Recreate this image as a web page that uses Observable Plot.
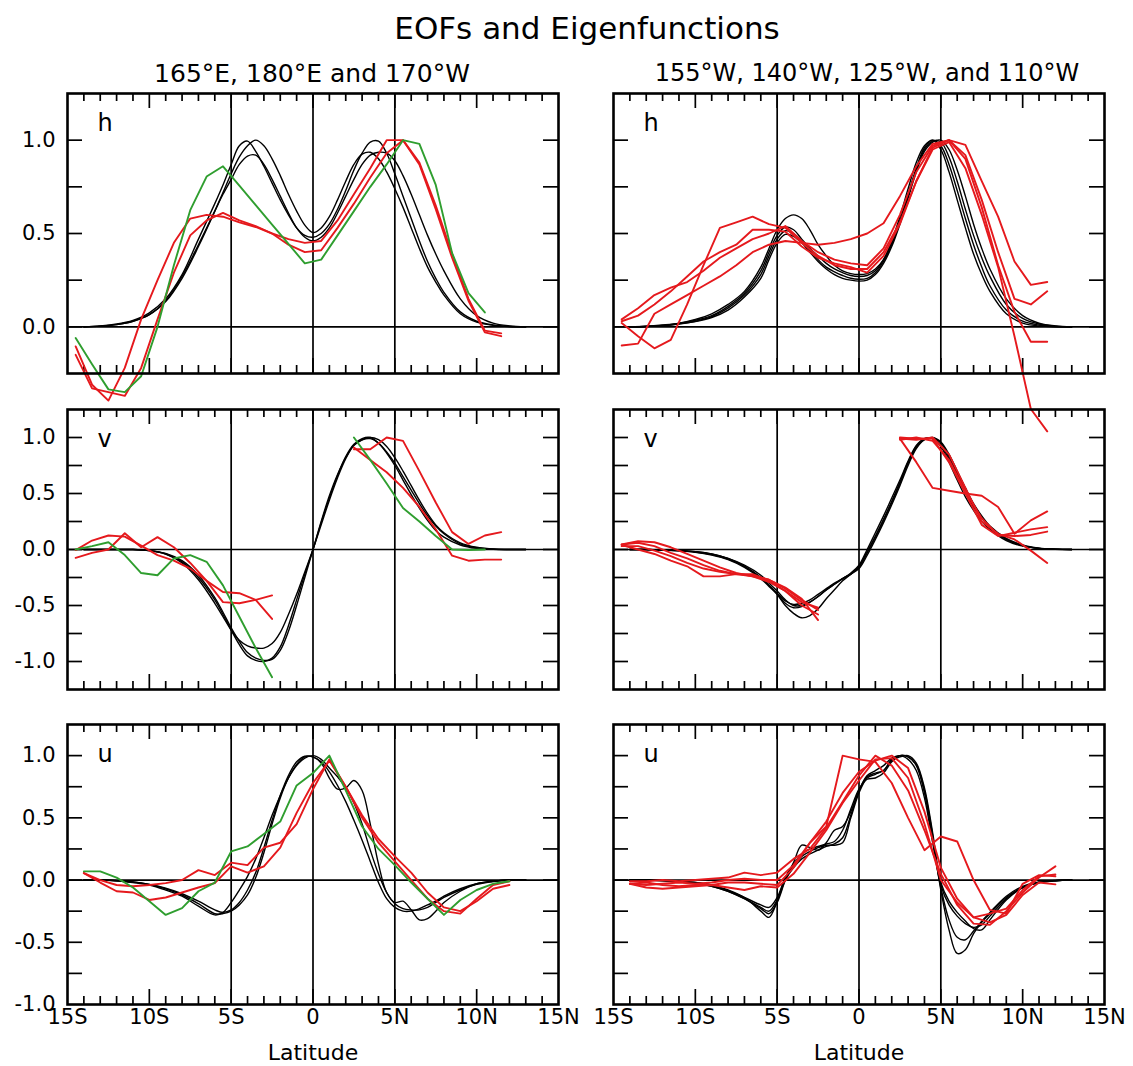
<!DOCTYPE html>
<html>
<head>
<meta charset="utf-8">
<script src="https://cdn.jsdelivr.net/npm/d3@7"></script>
<script src="https://cdn.jsdelivr.net/npm/@observablehq/plot@0.6"></script>
<style>
  body { margin: 0; background: #fff; }
  #page { position: relative; width: 1133px; height: 1066px; font-family: "DejaVu Sans", sans-serif; color: #000; overflow: hidden; }
  #page > svg { position: absolute; }
  .lbl { position: absolute; transform: translate(-50%, -50%); white-space: nowrap; }
</style>
</head>
<body>
<div id="page"></div>
<script>
// ---- latitude grids -------------------------------------------------------
// smooth eigenfunctions
const latEig = [-14,-13,-12,-11,-10,-9,-8,-7,-6,-5.5,-5,-4.5,-4,-3.5,-3,-2.5,-2,-1.5,-1,-0.5,0,
                0.5,1,1.5,2,2.5,3,3.5,4,4.5,5,5.5,6,6.5,7,7.5,8,9,10,11,12,13];
// EOFs of h and v (half-degree centres)
const latHalf = [-14.5,-13.5,-12.5,-11.5,-10.5,-9.5,-8.5,-7.5,-6.5,-5.5,-4.5,-3.5,-2.5,-1.5,-0.5,
                 0.5,1.5,2.5,3.5,4.5,5.5,6.5,7.5,8.5,9.5,10.5,11.5];
// EOFs of u (whole degrees)
const latWhole = [-14,-13,-12,-11,-10,-9,-8,-7,-6,-5,-4,-3,-2,-1,0,1,2,3,4,5,6,7,8,9,10,11,12];

// ---- h : 165E, 180E, 170W ---------------------------------------------------
const hEigWest = [
  [0,0.005,0.015,0.035,0.075,0.15,0.28,0.47,0.66,0.76,0.87,0.97,0.995,0.94,0.86,0.77,0.68,0.60,0.53,0.49,0.48,
   0.50,0.55,0.63,0.73,0.84,0.93,0.99,0.995,0.93,0.82,0.70,0.58,0.46,0.35,0.26,0.185,0.08,0.03,0.01,0.002,0],
  [0,0.004,0.012,0.03,0.065,0.135,0.26,0.43,0.62,0.72,0.82,0.91,0.97,1.0,0.97,0.90,0.81,0.71,0.62,0.545,0.505,
   0.53,0.59,0.68,0.78,0.87,0.925,0.935,0.90,0.83,0.74,0.64,0.53,0.42,0.32,0.24,0.17,0.07,0.025,0.008,0.002,0],
  [0,0.004,0.012,0.03,0.065,0.14,0.27,0.44,0.62,0.71,0.79,0.87,0.915,0.92,0.87,0.79,0.70,0.61,0.53,0.48,0.46,
   0.48,0.53,0.61,0.70,0.79,0.87,0.92,0.935,0.93,0.89,0.81,0.71,0.60,0.49,0.39,0.30,0.15,0.06,0.02,0.005,0]
];
const hEofWestRed = [
  [-0.105,-0.31,-0.395,-0.22,0.04,0.25,0.45,0.58,0.60,0.59,0.56,0.535,0.50,0.47,0.45,
   0.46,0.57,0.71,0.85,1.0,1.0,0.88,0.65,0.39,0.15,-0.02,-0.035],
  [-0.15,-0.33,-0.35,-0.37,-0.22,0.04,0.29,0.49,0.57,0.61,0.57,0.54,0.50,0.44,0.40,
   0.41,0.53,0.66,0.80,0.93,1.0,0.87,0.63,0.37,0.14,-0.03,-0.05]
];
const hEofWestGreen = [-0.06,-0.20,-0.335,-0.35,-0.265,0.0,0.33,0.625,0.805,0.86,0.756,0.652,0.548,0.444,0.34,
   0.36,0.49,0.62,0.75,0.87,1.0,0.98,0.76,0.395,0.18,0.077,null];

// ---- h : 155W, 140W, 125W, 110W --------------------------------------------
const hEigEast = [
  [0,0.003,0.01,0.02,0.04,0.07,0.12,0.19,0.32,0.42,0.52,0.58,0.60,0.58,0.52,0.44,0.38,0.33,0.30,0.285,0.28,
   0.285,0.31,0.36,0.45,0.57,0.71,0.85,0.96,1.0,0.97,0.87,0.73,0.58,0.44,0.32,0.22,0.09,0.03,0.01,0.002,0],
  [0,0.002,0.008,0.018,0.035,0.06,0.11,0.18,0.30,0.40,0.49,0.535,0.52,0.47,0.42,0.38,0.34,0.31,0.29,0.275,0.27,
   0.275,0.30,0.36,0.46,0.59,0.74,0.88,0.97,1.0,0.95,0.83,0.68,0.53,0.39,0.28,0.19,0.07,0.02,0.005,0,0],
  [0,0.002,0.007,0.016,0.03,0.055,0.10,0.17,0.28,0.38,0.47,0.515,0.50,0.46,0.41,0.36,0.32,0.295,0.275,0.26,0.255,
   0.26,0.29,0.35,0.44,0.56,0.70,0.84,0.95,0.995,0.99,0.91,0.78,0.63,0.49,0.37,0.27,0.12,0.045,0.015,0.004,0],
  [0,0.002,0.006,0.015,0.028,0.05,0.09,0.16,0.26,0.36,0.45,0.495,0.485,0.45,0.40,0.35,0.31,0.28,0.26,0.25,0.245,
   0.25,0.28,0.34,0.43,0.55,0.69,0.83,0.94,0.99,1.0,0.95,0.84,0.70,0.55,0.42,0.31,0.15,0.06,0.02,0.005,0]
];
const hEofEastRed = [
  [0.02,-0.05,-0.115,-0.07,0.12,0.33,0.53,0.56,0.59,0.55,0.53,0.45,0.38,0.33,0.31,
   0.31,0.40,0.56,0.78,0.96,1.0,0.92,0.68,0.40,0.15,0.12,0.19],
  [0.04,0.10,0.17,0.21,0.24,0.30,0.37,0.42,0.47,0.50,0.54,0.46,0.40,0.36,0.34,
   0.33,0.42,0.60,0.83,0.97,1.0,0.975,0.78,0.59,0.35,0.225,0.24],
  [-0.10,-0.09,0.07,0.12,0.17,0.22,0.27,0.33,0.40,0.44,0.46,0.45,0.44,0.45,0.47,
   0.50,0.555,0.70,0.86,0.98,1.0,0.90,0.64,0.33,0.08,-0.08,-0.08],
  [0.03,0.06,0.12,0.19,0.27,0.35,0.40,0.44,0.52,0.52,0.51,0.43,0.37,0.34,0.32,
   0.29,0.38,0.55,0.78,0.95,0.99,0.85,0.60,0.32,-0.05,-0.44,-0.56]
];

// ---- v : 165E, 180E, 170W ---------------------------------------------------
const vEigWest = [
  [0,0,0,0,-0.01,-0.04,-0.11,-0.25,-0.45,-0.58,-0.72,-0.85,-0.95,-0.99,-1.0,-0.97,-0.87,-0.68,-0.45,-0.22,0,
   0.24,0.46,0.66,0.83,0.94,0.99,1.0,0.95,0.86,0.75,0.62,0.49,0.37,0.26,0.17,0.11,0.04,0.01,0.002,0,0],
  [0,0,0,0,-0.01,-0.04,-0.12,-0.27,-0.48,-0.60,-0.72,-0.81,-0.86,-0.88,-0.88,-0.84,-0.74,-0.58,-0.40,-0.20,0,
   0.22,0.44,0.64,0.81,0.93,0.98,0.99,0.95,0.87,0.77,0.65,0.53,0.41,0.30,0.21,0.14,0.05,0.015,0.003,0,0],
  [0,0,0,0,-0.01,-0.035,-0.10,-0.23,-0.43,-0.56,-0.70,-0.82,-0.92,-0.97,-0.99,-0.98,-0.90,-0.73,-0.50,-0.25,0,
   0.25,0.48,0.67,0.82,0.93,0.98,1.0,0.98,0.92,0.82,0.70,0.57,0.44,0.32,0.22,0.15,0.06,0.02,0.005,0,0]
];
const vEofWestRed = [
  [-0.075,-0.03,0.0,0.145,0.02,0.11,0.02,-0.12,-0.28,-0.47,-0.48,-0.45,-0.41,null,null,
   null,null,0.895,0.895,1.0,0.97,0.70,0.42,0.155,0.05,0.125,0.155],
  [-0.005,0.08,0.125,0.115,0.035,-0.05,-0.10,-0.17,-0.28,-0.38,-0.39,-0.45,-0.62,null,null,
   null,null,0.91,0.80,0.69,0.55,0.38,0.18,-0.055,-0.10,-0.09,-0.09]
];
const vEofWestGreen = [0.0,0.03,0.065,-0.05,-0.21,-0.23,-0.08,-0.05,-0.11,-0.32,-0.60,-0.88,-1.14,null,null,
   null,null,1.0,0.80,0.59,0.37,0.25,0.12,0.0,-0.005,0.0,null];

// ---- v : 155W, 140W, 125W, 110W --------------------------------------------
const vEigEast = [
  [0,0,-0.005,-0.01,-0.02,-0.04,-0.08,-0.15,-0.25,-0.32,-0.40,-0.50,-0.57,-0.61,-0.59,-0.53,-0.44,-0.36,-0.28,-0.22,-0.15,
   -0.02,0.12,0.27,0.43,0.60,0.78,0.92,0.99,0.99,0.92,0.78,0.62,0.47,0.35,0.25,0.18,0.08,0.03,0.01,0.002,0],
  [0,0,-0.005,-0.012,-0.025,-0.05,-0.09,-0.16,-0.26,-0.33,-0.40,-0.48,-0.52,-0.51,-0.47,-0.42,-0.36,-0.31,-0.26,-0.21,-0.14,
   0.0,0.15,0.30,0.46,0.62,0.79,0.93,0.99,0.99,0.93,0.81,0.66,0.51,0.38,0.28,0.20,0.09,0.035,0.01,0.003,0],
  [0,0,-0.003,-0.01,-0.02,-0.04,-0.08,-0.14,-0.23,-0.30,-0.37,-0.45,-0.50,-0.50,-0.47,-0.42,-0.36,-0.31,-0.26,-0.22,-0.17,
   -0.05,0.09,0.24,0.40,0.57,0.75,0.90,0.98,1.0,0.96,0.85,0.70,0.55,0.41,0.30,0.21,0.10,0.04,0.012,0.003,0],
  [0,0,-0.004,-0.01,-0.022,-0.045,-0.085,-0.15,-0.25,-0.32,-0.39,-0.46,-0.49,-0.48,-0.45,-0.40,-0.35,-0.30,-0.26,-0.22,-0.16,
   -0.03,0.11,0.26,0.42,0.59,0.77,0.91,0.98,0.995,0.95,0.83,0.68,0.53,0.40,0.29,0.20,0.09,0.035,0.01,0.003,0]
];
const vEofEastRed = [
  [0.045,0.074,0.065,0.02,-0.04,-0.10,-0.16,-0.21,-0.24,-0.27,-0.35,-0.45,-0.54,null,null,
   null,null,0.99,0.78,0.55,0.525,0.50,0.48,0.38,0.14,0.26,0.34],
  [0.04,0.0,-0.04,-0.10,-0.15,-0.24,-0.24,-0.22,-0.23,-0.27,-0.34,-0.44,-0.63,null,null,
   null,null,1.0,0.99,0.99,0.78,0.50,0.22,0.12,0.15,0.18,0.20],
  [0.03,0.03,-0.01,-0.06,-0.12,-0.17,-0.20,-0.22,-0.24,-0.29,-0.37,-0.47,-0.52,null,null,
   null,null,0.99,0.98,1.0,0.85,0.55,0.25,0.14,0.09,-0.01,-0.12],
  [0.045,0.06,0.03,-0.03,-0.08,-0.14,-0.19,-0.22,-0.22,-0.28,-0.37,-0.50,-0.58,null,null,
   null,null,0.98,1.0,0.97,0.80,0.52,0.28,0.13,0.12,0.13,0.16]
];

// ---- u : 165E, 180E, 170W ---------------------------------------------------
const uEigWest = [
  [0,0,-0.005,-0.02,-0.04,-0.08,-0.13,-0.21,-0.28,-0.26,-0.18,-0.08,0.03,0.17,0.34,0.52,0.68,0.82,0.92,0.98,1.0,
   0.97,0.90,0.83,0.74,0.62,0.45,0.24,0.05,-0.10,-0.19,-0.23,-0.24,-0.24,-0.22,-0.18,-0.14,-0.08,-0.035,-0.012,0,0],
  [0,0,-0.005,-0.015,-0.035,-0.07,-0.12,-0.19,-0.27,-0.27,-0.25,-0.20,-0.12,0.02,0.22,0.45,0.66,0.82,0.93,0.99,0.99,
   0.94,0.82,0.73,0.74,0.80,0.72,0.45,0.13,-0.10,-0.18,-0.17,-0.24,-0.32,-0.31,-0.25,-0.18,-0.09,-0.03,-0.01,0,0],
  [0,0,-0.005,-0.015,-0.035,-0.065,-0.11,-0.17,-0.24,-0.26,-0.24,-0.18,-0.08,0.06,0.26,0.48,0.68,0.84,0.95,0.995,0.99,
   0.95,0.87,0.76,0.63,0.48,0.32,0.15,-0.02,-0.15,-0.22,-0.25,-0.25,-0.23,-0.20,-0.17,-0.13,-0.07,-0.03,-0.01,0,0]
];
const uEofWestRed = [
  [0.056,0.0,-0.04,-0.05,-0.04,-0.025,0.0,0.08,0.04,0.14,0.12,0.26,0.30,0.45,0.73,
   0.97,0.75,0.52,0.33,0.19,0.06,-0.10,-0.22,-0.25,-0.17,-0.07,-0.04],
  [0.056,-0.02,-0.09,-0.10,-0.16,-0.14,-0.10,-0.06,-0.025,0.11,0.06,0.11,0.26,0.54,0.78,
   0.96,0.75,0.50,0.30,0.15,0.0,-0.15,-0.25,-0.27,-0.15,-0.04,-0.01]
];
const uEofWestGreen = [0.07,0.07,0.02,-0.06,-0.17,-0.28,-0.225,-0.09,-0.02,0.23,0.27,0.37,0.47,0.76,0.86,
   1.0,0.72,0.43,0.25,0.12,-0.02,-0.15,-0.28,-0.16,-0.08,-0.03,-0.01];

// ---- u : 155W, 140W, 125W, 110W --------------------------------------------
const uEigEast = [
  [0,0,-0.003,-0.01,-0.02,-0.04,-0.08,-0.14,-0.25,-0.30,-0.17,0.02,0.13,0.21,0.25,0.27,0.29,0.31,0.40,0.57,0.73,
   0.81,0.82,0.86,0.95,1.0,0.99,0.92,0.70,0.33,-0.08,-0.40,-0.59,-0.56,-0.43,-0.34,-0.27,-0.14,-0.06,-0.02,-0.005,0],
  [0,0,-0.004,-0.012,-0.025,-0.05,-0.09,-0.15,-0.23,-0.27,-0.18,0.0,0.14,0.28,0.26,0.24,0.30,0.40,0.43,0.55,0.72,
   0.83,0.86,0.88,0.97,1.0,0.97,0.88,0.66,0.30,-0.06,-0.32,-0.46,-0.48,-0.41,-0.33,-0.26,-0.13,-0.05,-0.015,-0.004,0],
  [0,0,-0.004,-0.012,-0.025,-0.05,-0.09,-0.15,-0.22,-0.25,-0.16,0.0,0.10,0.17,0.21,0.24,0.27,0.29,0.34,0.52,0.72,
   0.84,0.88,0.92,0.98,1.0,0.99,0.93,0.72,0.36,-0.04,-0.20,-0.29,-0.35,-0.38,-0.36,-0.29,-0.15,-0.06,-0.02,-0.005,0],
  [0,0,-0.004,-0.01,-0.02,-0.045,-0.085,-0.14,-0.20,-0.22,-0.14,0.02,0.12,0.19,0.23,0.26,0.28,0.28,0.30,0.50,0.70,
   0.82,0.85,0.88,0.96,0.99,1.0,0.94,0.74,0.38,-0.02,-0.17,-0.26,-0.33,-0.39,-0.40,-0.32,-0.16,-0.06,-0.02,-0.005,0]
];
const uEofEastRed = [
  [-0.03,-0.02,-0.04,-0.05,-0.04,-0.04,-0.02,-0.02,-0.03,-0.04,0.10,0.30,0.43,1.0,0.97,
   0.95,0.78,0.50,0.24,0.35,0.31,0.0,-0.24,-0.27,-0.03,0.04,0.03],
  [-0.01,-0.01,0.0,-0.01,0.0,0.01,0.02,0.06,0.04,0.06,0.17,0.25,0.42,0.63,0.84,
   1.0,0.92,0.72,0.40,0.05,-0.20,-0.35,-0.36,-0.25,-0.10,0.02,0.11],
  [-0.03,-0.04,-0.03,-0.02,-0.03,-0.02,0.0,0.01,0.0,0.0,0.12,0.30,0.47,0.70,0.87,
   0.96,1.0,0.90,0.55,0.10,-0.15,-0.30,-0.27,-0.23,-0.08,0.03,0.045],
  [-0.03,-0.06,-0.07,-0.06,-0.05,-0.04,-0.06,-0.08,-0.05,-0.06,0.05,0.22,0.40,0.62,0.80,
   0.97,0.98,0.82,0.45,0.0,-0.18,-0.30,-0.34,-0.28,-0.12,-0.02,-0.035]
];

// ---- axis ticks ---------------------------------------------------------------
const xMajor = [-10, -5, 0, 5, 10];
const xMinor = d3.range(-14, 15).filter(d => d % 5 !== 0);
const xLabels = [-15, -10, -5, 0, 5, 10, 15];
const yLabelsH = [0, 0.5, 1];
const yLabelsUV = [-1, -0.5, 0, 0.5, 1];

// ---- drawing -----------------------------------------------------------------
const RED = "#e5191d", GREEN = "#2f9e2f", BLACK = "#000";
const FONT = "DejaVu Sans, sans-serif";
const FW = 491, FH = 280;               // frame size of every panel
const page = document.getElementById("page");

function tidy(lats, series, color) {
  return series.flatMap((vals, s) =>
    vals.map((v, i) => ({lat: lats[i], v: v == null ? NaN : v, s: color + s, c: color})));
}

function label(text, x, y, size) {
  const d = document.createElement("div");
  d.className = "lbl";
  d.textContent = text;
  d.style.left = x + "px";
  d.style.top = y + "px";
  d.style.fontSize = size + "px";
  page.appendChild(d);
}

function panel({frameLeft, frameTop, yDomain, yLabels, letter, eig, eofs, showY, showX}) {
  const ml = showY ? frameLeft : 10, mr = 10, mt = 10, mb = showX ? 62 : 10;
  const yTicks = d3.range(Math.ceil(yDomain[0] * 4) / 4, yDomain[1], 0.25).filter(d => d > yDomain[0] + 1e-6);
  const marks = [
    Plot.ruleX([-5, 0, 5], {stroke: BLACK, strokeWidth: 1.7}),
    Plot.ruleY([0], {stroke: BLACK, strokeWidth: 1.7}),
    Plot.tickX(xMinor, {x: d => d, insetBottom: FH - 8, strokeWidth: 1.7}),
    Plot.tickX(xMinor, {x: d => d, insetTop: FH - 8, strokeWidth: 1.7}),
    Plot.tickX(xMajor, {x: d => d, insetBottom: FH - 15, strokeWidth: 1.7}),
    Plot.tickX(xMajor, {x: d => d, insetTop: FH - 15, strokeWidth: 1.7}),
    Plot.tickY(yTicks, {y: d => d, insetRight: FW - 15, strokeWidth: 1.7}),
    Plot.tickY(yTicks, {y: d => d, insetLeft: FW - 15, strokeWidth: 1.7}),
    Plot.line(tidy(latEig, eig, BLACK), {x: "lat", y: "v", z: "s", stroke: BLACK, strokeWidth: 1.4, curve: "catmull-rom"}),
    ...eofs.map(([lats, series, color]) =>
      Plot.line(tidy(lats, series, color), {x: "lat", y: "v", z: "s", stroke: color, strokeWidth: 1.9})),
    Plot.frame({stroke: BLACK, strokeWidth: 2.6}),
    Plot.text([letter], {frameAnchor: "top-left", dx: 30, dy: 30, fontSize: 24, lineAnchor: "middle", textAnchor: "start"})
  ];
  if (showY) marks.push(Plot.axisY(yLabels, {anchor: "left", tickSize: 0, tickPadding: 12, fontSize: 21,
    tickFormat: d => d.toFixed(1), label: null}));
  if (showX) {
    marks.push(Plot.axisX(xLabels, {anchor: "bottom", tickSize: 0, tickPadding: 5, fontSize: 21,
      tickFormat: d => d === 0 ? "0" : Math.abs(d) + (d < 0 ? "S" : "N"), label: null}));
    marks.push(Plot.text(["Latitude"], {frameAnchor: "bottom", dy: 48, fontSize: 22, lineAnchor: "middle"}));
  }
  const svg = Plot.plot({
    width: ml + FW + mr, height: mt + FH + mb,
    marginLeft: ml, marginRight: mr, marginTop: mt, marginBottom: mb,
    x: {domain: [-15, 15], axis: null},
    y: {domain: yDomain, axis: null},
    style: {background: "transparent", overflow: "visible", fontFamily: FONT, color: BLACK},
    marks
  });
  svg.style.left = (frameLeft - ml) + "px";
  svg.style.top = (frameTop - mt) + "px";
  page.appendChild(svg);
}

const cols = [{frameLeft: 67, showY: true}, {frameLeft: 613, showY: false}];
const rows = [
  {frameTop: 93, yDomain: [-0.25, 1.25], yLabels: yLabelsH, letter: "h", showX: false},
  {frameTop: 409, yDomain: [-1.25, 1.25], yLabels: yLabelsUV, letter: "v", showX: false},
  {frameTop: 724, yDomain: [-1, 1.25], yLabels: yLabelsUV, letter: "u", showX: true}
];
const content = [
  [ {eig: hEigWest, eofs: [[latHalf, hEofWestRed, RED], [latHalf, [hEofWestGreen], GREEN]]},
    {eig: hEigEast, eofs: [[latHalf, hEofEastRed, RED]]} ],
  [ {eig: vEigWest, eofs: [[latHalf, vEofWestRed, RED], [latHalf, [vEofWestGreen], GREEN]]},
    {eig: vEigEast, eofs: [[latHalf, vEofEastRed, RED]]} ],
  [ {eig: uEigWest, eofs: [[latWhole, uEofWestRed, RED], [latWhole, [uEofWestGreen], GREEN]]},
    {eig: uEigEast, eofs: [[latWhole, uEofEastRed, RED]]} ]
];

rows.forEach((row, r) => cols.forEach((col, c) => panel({...row, ...col, ...content[r][c]})));

label("EOFs and Eigenfunctions", 587, 28, 31);
label("165°E, 180°E and 170°W", 312, 73, 25);
label("155°W, 140°W, 125°W, and 110°W", 867, 73, 24);
</script>
</body>
</html>
